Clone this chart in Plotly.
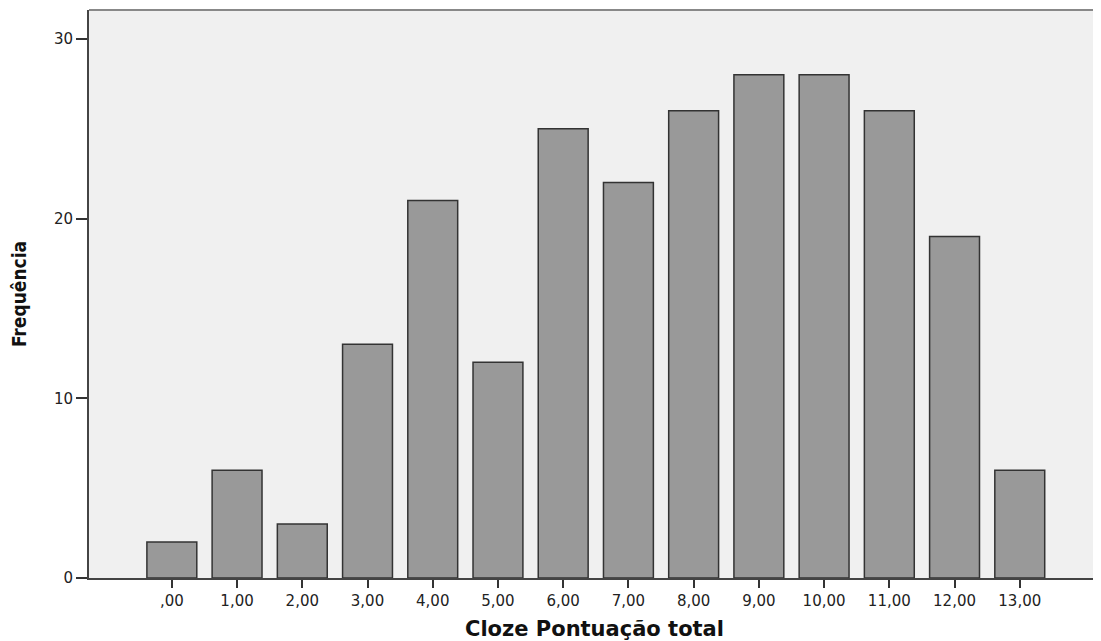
import plotly.graph_objects as go

scores = [0, 1, 2, 3, 4, 5, 6, 7, 8, 9, 10, 11, 12, 13]
tick_labels = [",00", "1,00", "2,00", "3,00", "4,00", "5,00", "6,00",
               "7,00", "8,00", "9,00", "10,00", "11,00", "12,00", "13,00"]
frequencies = [2, 6, 3, 13, 21, 12, 25, 22, 26, 28, 28, 26, 19, 6]
y_ticks = [0, 10, 20, 30]

fig = go.Figure()
fig.add_trace(go.Bar(
    x=scores,
    y=frequencies,
    width=0.765,
    marker=dict(color="#999999", line=dict(color="#333333", width=1.5)),
    hoverinfo="x+y",
))

fig.update_layout(
    width=1093,
    height=633,
    margin=dict(l=81, r=1, t=2, b=63),
    paper_bgcolor="white",
    plot_bgcolor="#f0f0f0",
    showlegend=False,
    font=dict(family="DejaVu Sans", size=15, color="#222222"),
    xaxis=dict(
        range=[-1.27, 14.23],
        tickmode="array",
        tickvals=scores,
        ticktext=tick_labels,
        ticks="outside",
        ticklen=8,
        tickwidth=2,
        tickcolor="#333333",
        showgrid=False,
        zeroline=False,
        showline=True,
        linecolor="#444444",
        linewidth=2,
        tickfont=dict(family="DejaVu Sans", size=15, color="#222222"),
        title=dict(text="Cloze Pontuação total",
                   font=dict(family="DejaVu Sans", size=21, color="#111111", weight="bold"),
                   standoff=12),
    ),
    yaxis=dict(
        range=[0, 31.6],
        tickmode="array",
        tickvals=y_ticks,
        ticks="outside",
        ticklen=11,
        tickwidth=2,
        tickcolor="#333333",
        showgrid=False,
        zeroline=False,
        showline=True,
        linecolor="#444444",
        linewidth=2,
        tickfont=dict(family="DejaVu Sans", size=15, color="#222222"),
        title=dict(text="Frequência",
                   font=dict(family="DejaVu Sans Condensed", size=19, color="#111111", weight="bold"),
                   standoff=22),
    ),
)

fig.add_shape(type="line", xref="paper", yref="paper", x0=0, x1=1, y0=1, y1=1,
              line=dict(color="#888888", width=2))

fig.write_html("out.html")
